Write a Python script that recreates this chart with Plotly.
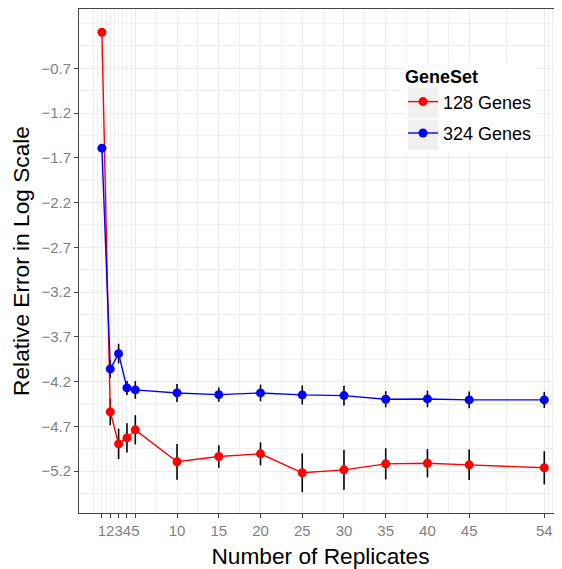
import plotly.graph_objects as go

# ---- data ----
replicates = [1, 2, 3, 4, 5, 10, 15, 20, 25, 30, 35, 40, 45, 54]
genes128 = [-0.298, -4.538, -4.895, -4.828, -4.738, -5.095, -5.036, -5.006,
            -5.218, -5.185, -5.118, -5.111, -5.129, -5.162]
genes128_err = [0.01, 0.15, 0.17, 0.163, 0.163, 0.20, 0.125, 0.128,
                0.217, 0.222, 0.174, 0.158, 0.17, 0.185]
genes324 = [-1.592, -4.058, -3.887, -4.270, -4.292, -4.326, -4.345, -4.326,
            -4.348, -4.356, -4.397, -4.393, -4.404, -4.404]
genes324_err = [0.01, 0.10, 0.11, 0.078, 0.10, 0.10, 0.08, 0.093,
                0.106, 0.11, 0.09, 0.093, 0.093, 0.09]

x_ticks = [1, 2, 3, 4, 5, 10, 15, 20, 25, 30, 35, 40, 45, 54]
y_ticks = [-0.7, -1.2, -1.7, -2.2, -2.7, -3.2, -3.7, -4.2, -4.7, -5.2]
x_minor = [0, 0.5, 1.5, 2.5, 3.5, 4.5, 7.5, 12.5, 17.5, 22.5, 27.5, 32.5,
           37.5, 42.5, 49.5, 54.5, 55]
y_minor = [-0.2, -0.45, -0.95, -1.45, -1.95, -2.45, -2.95, -3.45, -3.95,
           -4.45, -4.95, -5.45]

series_names = ["128 Genes", "324 Genes"]
series_colors = ["#ff0000", "#0000ff"]

# page body has an 8px margin; lay the figure out in page pixels minus that
OFF = 8
W, H = 562 - OFF, 569 - OFF
ML, MR, MT, MB = 79 - OFF, 0, 9 - OFF, 569 - 513 - 0
MB = H - (513 - OFF)

fig = go.Figure()

for vals, errs in [(genes128, genes128_err), (genes324, genes324_err)]:
    fig.add_trace(go.Scatter(
        x=replicates, y=vals, mode="markers",
        marker=dict(size=1, opacity=0),
        error_y=dict(type="data", array=errs, color="black", thickness=1.6, width=0),
        showlegend=False, hoverinfo="skip"))

for name, vals, col in zip(series_names, [genes128, genes324], series_colors):
    fig.add_trace(go.Scatter(
        x=replicates, y=vals, mode="lines+markers", name=name,
        line=dict(color=col, width=1.4),
        marker=dict(color=col, size=9),
        legendgroup=name))

# helpers converting page-pixel positions to paper coords (legend decoration)
pw, ph = W - ML - MR, H - MT - MB
def px(xp):
    return (xp - OFF - ML) / pw
def py(yp):
    return (H - MB - (yp - OFF)) / ph

shapes = [
    dict(type="rect", xref="paper", yref="paper", layer="above",
         x0=px(405), x1=px(537), y0=py(152), y1=py(63),
         fillcolor="white", line=dict(width=0)),
    dict(type="rect", xref="paper", yref="paper", layer="above",
         x0=px(408), x1=px(438.5), y0=py(118.3), y1=py(87.7),
         fillcolor="#f0f0f0", line=dict(width=0)),
    dict(type="rect", xref="paper", yref="paper", layer="above",
         x0=px(408), x1=px(438.5), y0=py(150), y1=py(119.7),
         fillcolor="#f0f0f0", line=dict(width=0)),
]

fig.update_layout(
    width=W, height=H,
    margin=dict(l=ML, r=MR, t=MT, b=MB, autoexpand=False),
    paper_bgcolor="white", plot_bgcolor="white",
    font=dict(family="Liberation Sans, Arial, Helvetica, sans-serif"),
    shapes=shapes,
    legend=dict(
        title=dict(text="<b>GeneSet</b>", font=dict(size=18, color="black")),
        font=dict(size=18, color="black"),
        x=px(403), xanchor="left", y=py(60), yanchor="top",
        bgcolor="rgba(0,0,0,0)", borderwidth=0,
        tracegroupgap=5, itemwidth=30),
    xaxis=dict(
        range=[-1.746, 56.12], tickmode="array", tickvals=x_ticks,
        ticktext=[str(v) for v in x_ticks], tickangle=0, automargin=False,
        tickfont=dict(size=15, color="#7f7f7f"),
        ticks="outside", ticklen=4, tickcolor="#444", tickwidth=1,
        showline=True, linecolor="#444", linewidth=1, mirror=True,
        showgrid=True, gridcolor="#ebebeb", gridwidth=1, zeroline=False,
        minor=dict(tickvals=x_minor, showgrid=True, gridcolor="#f0f0f0",
                   gridwidth=1, ticks=""),
        title=dict(text="Number of Replicates",
                   font=dict(size=22.7, color="black"), standoff=10)),
    yaxis=dict(
        range=[-5.667, -0.038], tickmode="array", tickvals=y_ticks,
        ticktext=[f"{v:.1f}".replace("-", "\u2212") for v in y_ticks],
        automargin=False,
        tickfont=dict(size=15, color="#7f7f7f"),
        ticks="outside", ticklen=4, tickcolor="#444", tickwidth=1,
        showline=True, linecolor="#444", linewidth=1, mirror=False,
        showgrid=True, gridcolor="#ebebeb", gridwidth=1, zeroline=False,
        minor=dict(tickvals=y_minor, showgrid=True, gridcolor="#f0f0f0",
                   gridwidth=1, ticks=""),
        title=dict(text="Relative Error in Log Scale",
                   font=dict(size=22.7, color="black"), standoff=5)),
)

fig.write_html("out.html")
